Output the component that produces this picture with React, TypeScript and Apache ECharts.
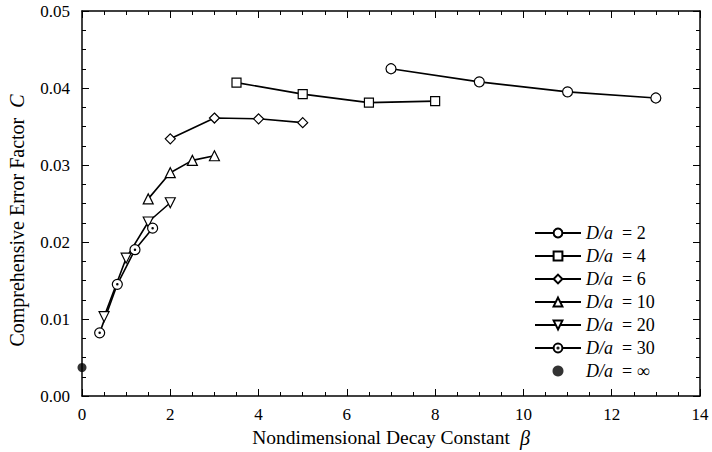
import React, { useEffect, useRef } from "react";
import * as echarts from "echarts";

const beta2 = [7, 9, 11, 13];
const c2 = [0.0425, 0.0408, 0.0395, 0.0387];
const beta4 = [3.5, 5, 6.5, 8];
const c4 = [0.0407, 0.0392, 0.0381, 0.0383];
const beta6 = [2, 3, 4, 5];
const c6 = [0.0334, 0.0361, 0.036, 0.0355];
const beta10 = [1.5, 2, 2.5, 3];
const c10 = [0.0256, 0.029, 0.0306, 0.0312];
const beta20 = [0.5, 1, 1.5, 2];
const c20 = [0.0103, 0.0179, 0.0226, 0.0251];
const beta30 = [0.4, 0.8, 1.2, 1.6];
const c30 = [0.0082, 0.0145, 0.019, 0.0218];
const betaInf = [0];
const cInf = [0.0037];

const legendNames = ["2", "4", "6", "10", "20", "30", "∞"];

const FONT = "Liberation Serif, Times New Roman, serif";
const dotCircle =
  "path://M10,0A10,10,0,1,1,-10,0A10,10,0,1,1,10,0ZM1.3,0A1.3,1.3,0,1,1,-1.3,0A1.3,1.3,0,1,1,1.3,0Z";

const zip = (xs: number[], ys: number[]) => xs.map((x, i) => [x, ys[i]]);

export default function App() {
  const ref = useRef<HTMLDivElement>(null);
  useEffect(() => {
    document.body.style.margin = "0";
    const chart = echarts.init(ref.current!, null, { renderer: "svg" });
    const lineSeries = (
      name: string,
      xs: number[],
      ys: number[],
      symbol: string,
      size: number,
      rotate = 0
    ) => ({
      type: "line",
      name,
      data: zip(xs, ys),
      symbol,
      symbolSize: size,
      symbolRotate: rotate,
      showAllSymbol: true,
      lineStyle: { color: "#000", width: 1.6 },
      itemStyle: { color: "#fff", borderColor: "#000", borderWidth: 1.2 },
      emphasis: { disabled: true },
      z: 3,
    });
    const axisCommon = {
      type: "value",
      axisLine: { show: true, onZero: false, lineStyle: { color: "#000", width: 1.5 } },
      axisTick: { show: true, inside: true, length: 7, lineStyle: { color: "#000", width: 1 } },
      minorTick: { show: true, splitNumber: 4, length: 4, lineStyle: { color: "#000", width: 1 } },
      splitLine: { show: false },
    };
    chart.setOption({
      animation: false,
      backgroundColor: "#fff",
      grid: { left: 82, right: 12, top: 11, bottom: 56, outerBoundsMode: "none" },
      legend: {
        orient: "vertical",
        left: 529,
        top: 219,
        itemWidth: 46,
        itemHeight: 11,
        itemGap: 5,
        selectedMode: false,
        data: legendNames.map((n) => "D/a = " + n),
        formatter: (name: string) => "{i|D/a}  {n|" + name.replace("D/a = ", "= ") + "}",
        textStyle: {
          fontFamily: FONT,
          fontSize: 18,
          color: "#000",
          rich: {
            i: { fontFamily: FONT, fontStyle: "italic", fontSize: 18, lineHeight: 18, color: "#000" },
            n: { fontFamily: FONT, fontSize: 18, lineHeight: 18, color: "#000" },
          },
        },
      },
      xAxis: [
        {
          ...axisCommon,
          min: 0,
          max: 14,
          interval: 2,
          position: "bottom",
          axisLabel: { color: "#000", fontFamily: FONT, fontSize: 17, margin: 10 },
          name: "{n|Nondimensional Decay Constant}   {i|β}",
          nameLocation: "middle",
          nameGap: 29,
          nameTextStyle: {
            rich: {
              n: { fontFamily: FONT, fontSize: 19.5, color: "#000" },
              i: { fontFamily: FONT, fontSize: 20, fontStyle: "italic", color: "#000" },
            },
          },
        },
        {
          ...axisCommon,
          min: 0,
          max: 14,
          interval: 2,
          position: "top",
          axisLabel: { show: false },
        },
      ],
      yAxis: [
        {
          ...axisCommon,
          min: 0,
          max: 0.05,
          interval: 0.01,
          position: "left",
          axisLabel: {
            color: "#000",
            fontFamily: FONT,
            fontSize: 17,
            margin: 12,
            formatter: (v: number) => v.toFixed(2),
          },
          name: "{n|Comprehensive Error Factor}   {i|C}",
          nameLocation: "middle",
          nameGap: 55,
          nameTextStyle: {
            padding: [0, 34, 0, 0],
            rich: {
              n: { fontFamily: FONT, fontSize: 20, color: "#000" },
              i: { fontFamily: FONT, fontSize: 20, fontStyle: "italic", color: "#000" },
            },
          },
        },
        {
          ...axisCommon,
          min: 0,
          max: 0.05,
          interval: 0.01,
          position: "right",
          axisLabel: { show: false },
        },
      ],
      series: [
        lineSeries("D/a = 2", beta2, c2, "circle", 10),
        lineSeries("D/a = 4", beta4, c4, "rect", 9),
        lineSeries("D/a = 6", beta6, c6, "diamond", 10),
        lineSeries("D/a = 10", beta10, c10, "triangle", 10),
        lineSeries("D/a = 20", beta20, c20, "triangle", 10, 180),
        lineSeries("D/a = 30", beta30, c30, dotCircle, 10),
        {
          type: "scatter",
          name: "D/a = ∞",
          data: zip(betaInf, cInf),
          symbol: "circle",
          symbolSize: 9,
          clip: false,
          itemStyle: { color: "#000" },
          emphasis: { disabled: true },
          z: 5,
        },
      ],
    });
    return () => chart.dispose();
  }, []);
  return <div ref={ref} style={{ width: 712, height: 452 }} />;
}
